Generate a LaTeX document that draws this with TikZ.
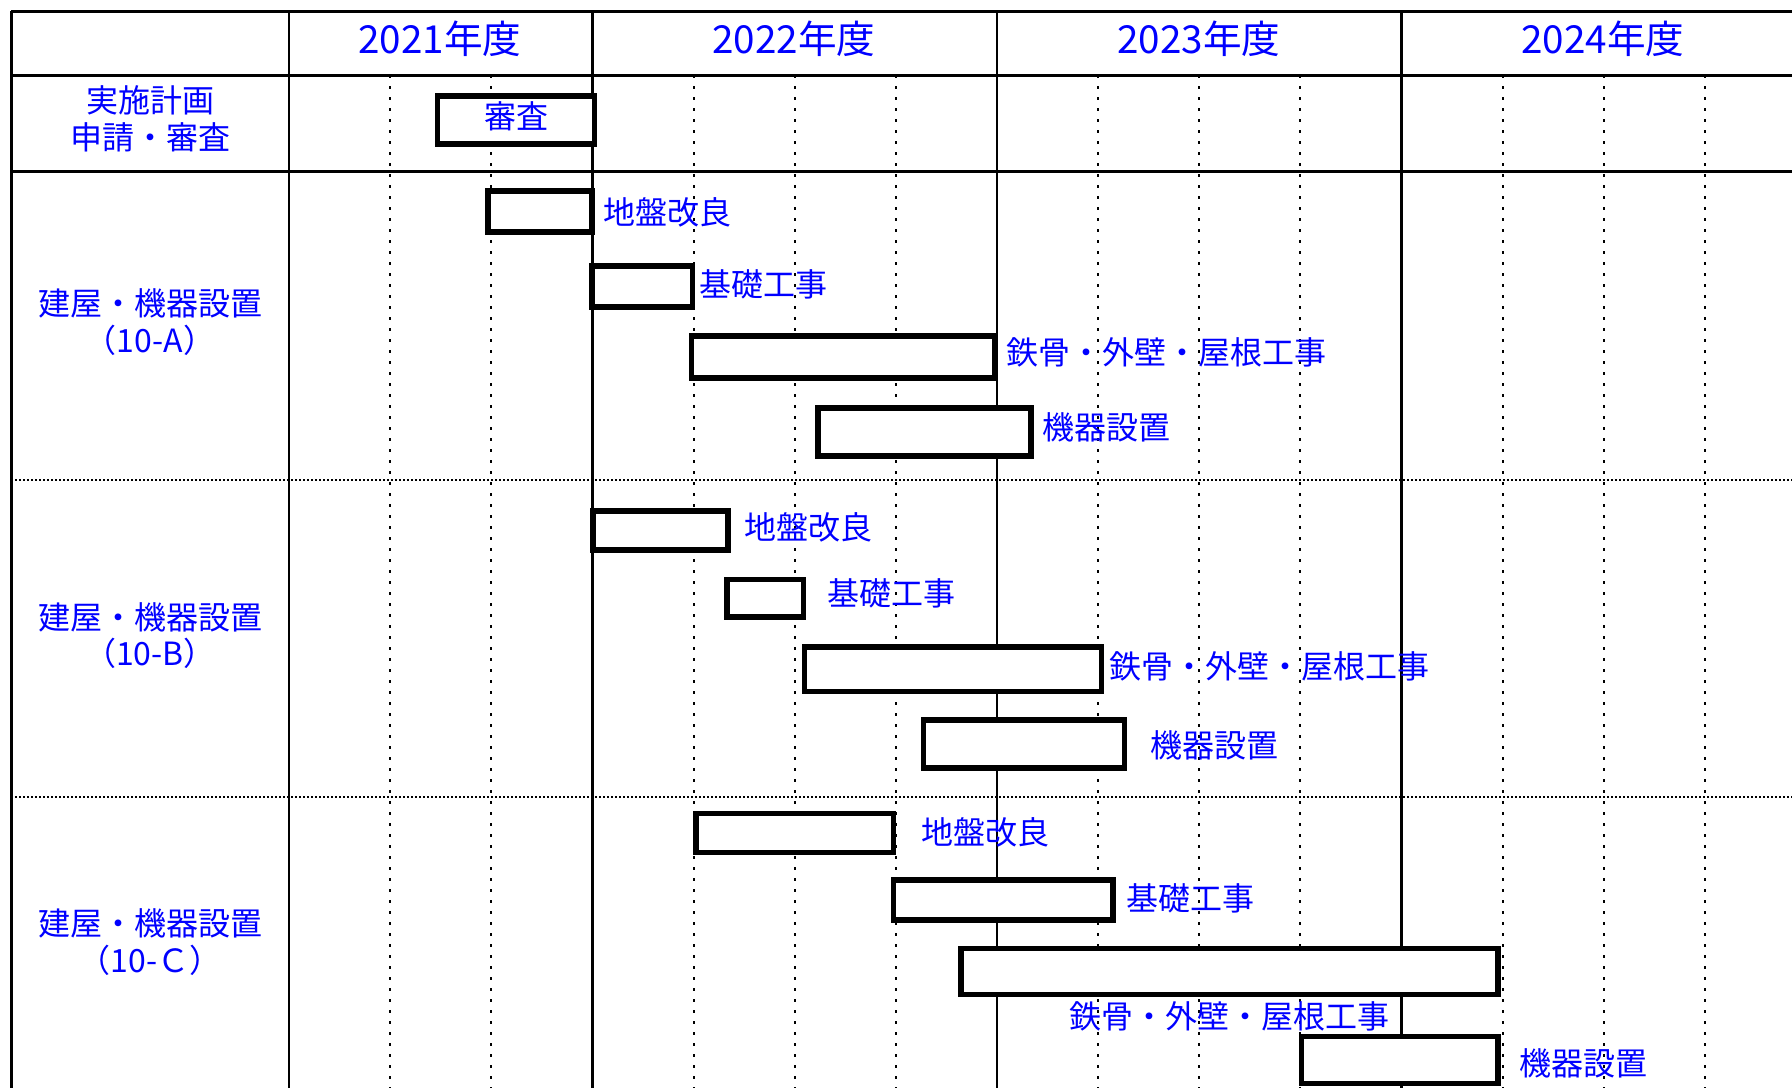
\documentclass[tikz,border=0pt]{standalone}
\usepackage{fontspec}
\setmainfont{Noto Sans CJK JP}
\begin{document}
\begin{tikzpicture}[x=0.5pt,y=-0.5pt,
  lbl/.style={text=blue,font=\fontsize{16}{18.3}\selectfont,inner sep=0pt},
  yr/.style={text=blue,font=\fontsize{19.3}{22}\selectfont,inner sep=0pt},
  bar/.style={draw=black,fill=white,line width=2.6pt,inner sep=0pt},
  gridline/.style={line width=1.15pt},
  qline/.style={line width=1pt,dash pattern=on 1.5pt off 4pt},
  sepline/.style={line width=1.1pt,dash pattern=on 1pt off 1pt}]
\useasboundingbox (0,0) rectangle (1792,1088);
\fill[white] (0,0) rectangle (1792,1088);
% quarter dotted lines
\foreach \x in {390.2,491.4,693.7,794.8,895.9,1098.1,1199.3,1300.4,1502.8,1603.9,1705.1}
  \draw[qline] (\x,75.4) -- (\x,1088);
% row separators
\draw[sepline] (11.4,480) -- (1792,480);
\draw[sepline] (11.4,796.6) -- (1792,796.6);
% solid grid
\foreach \y in {11.4,75.4,171.4}
  \draw[gridline] (11.4,\y) -- (1792,\y);
\foreach \x in {11.4,289.1,592.5,997,1401.6}
  \draw[gridline] (\x,11.4) -- (\x,1088);
% headers
\node[yr] (y2021) at (440,38.9) {2021年度};
\node[yr] (y2022) at (794,38.9) {2022年度};
\node[yr] (y2023) at (1199,38.9) {2023年度};
\node[yr] (y2024) at (1603,38.9) {2024年度};
% left labels
\node[lbl,align=center] (r1) at (150,119) {実施計画\\申請・審査};
\node[lbl,align=center] (rA) at (150,322) {建屋・機器設置\\（10-A）};
\node[lbl,align=center] (rB) at (150,635.5) {建屋・機器設置\\（10-B）};
\node[lbl,align=center] (rC) at (150,942) {建屋・機器設置\\（10-Ｃ）};
% row 1
\draw[bar] (437.7,96) rectangle (594.3,144);
\node[lbl] (shinsa) at (516,116) {審査};
% 10-A
\draw[bar] (488,191) rectangle (592,232);
\node[lbl,anchor=west] (a1) at (603,212.6) {地盤改良};
\draw[bar] (592,266) rectangle (692.6,307);
\node[lbl,anchor=west] (a2) at (699,284.6) {基礎工事};
\draw[bar] (691.4,336) rectangle (994.3,378);
\node[lbl,anchor=west] (a3) at (1005.7,352) {鉄骨・外壁・屋根工事};
\draw[bar] (818,408) rectangle (1031,456);
\node[lbl,anchor=west] (a4) at (1042,427.4) {機器設置};
% 10-B
\draw[bar] (593,511) rectangle (728,550);
\node[lbl,anchor=west] (b1) at (744,527) {地盤改良};
\draw[bar] (727,579.4) rectangle (803.4,617);
\node[lbl,anchor=west] (b2) at (827.4,593) {基礎工事};
\draw[bar] (804.6,647) rectangle (1101.7,691.4);
\node[lbl,anchor=west] (b3) at (1108.6,666) {鉄骨・外壁・屋根工事};
\draw[bar] (923.4,720) rectangle (1124.6,768);
\node[lbl,anchor=west] (b4) at (1149.7,745) {機器設置};
% 10-C
\draw[bar] (696,813.7) rectangle (893.7,852.6);
\node[lbl,anchor=west] (c1) at (921,832) {地盤改良};
\draw[bar] (893.7,880) rectangle (1113,920);
\node[lbl,anchor=west] (c2) at (1125.7,898.3) {基礎工事};
\draw[bar] (961,948.6) rectangle (1498,994.3);
\node[lbl] (c3) at (1229.7,1016) {鉄骨・外壁・屋根工事};
\draw[bar] (1301.7,1036.6) rectangle (1498,1083.4);
\node[lbl,anchor=west] (c4) at (1518.9,1063) {機器設置};
\end{tikzpicture}
\end{document}
